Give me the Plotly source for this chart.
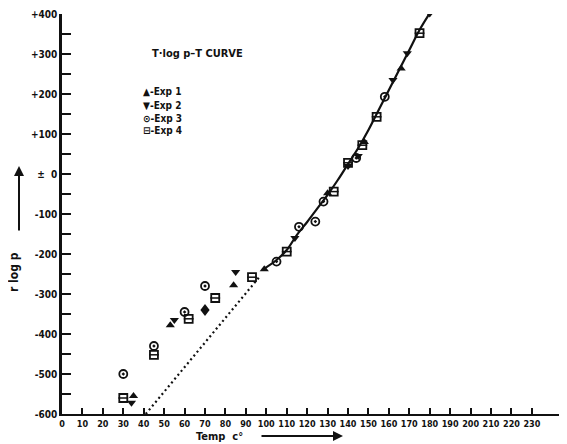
import plotly.graph_objects as go

# ---- data (Temp °C, T·log p) ----
exp1_t = [35, 53, 70, 84, 99, 130, 148, 166]
exp1_v = [-555, -378, -335, -278, -238, -48, 80, 264]

exp2_t = [34, 55, 70, 85, 114, 140, 145, 162, 169, 180]
exp2_v = [-572, -365, -345, -245, -160, 20, 45, 235, 302, 401]

exp3_t = [30, 45, 60, 70, 105, 116, 124, 128, 144, 158]
exp3_v = [-500, -430, -345, -280, -219, -132, -119, -69, 40, 193]

exp4_t = [30, 45, 62, 75, 93, 110, 133, 140, 147, 154, 175]
exp4_v = [-560, -452, -362, -310, -258, -194, -44, 28, 72, 143, 352]

curve_t = [98, 105, 110, 115, 120, 125, 130, 135, 140, 145, 150, 155, 160, 165, 170, 175, 180]
curve_v = [-240, -215, -190, -152, -120, -86, -52, -15, 25, 65, 110, 160, 210, 260, 310, 360, 402]

dotted_t = [41, 97]
dotted_v = [-600, -255]

x_ticks = list(range(0, 240, 10))
y_ticks = [400, 300, 200, 100, 0, -100, -200, -300, -400, -500, -600]
y_labels = ["+400", "+300", "+200", "+100", "±  0", "-100", "-200", "-300", "-400", "-500", "-600"]

FONT = "DejaVu Sans Condensed, Liberation Sans Narrow, DejaVu Sans, sans-serif"
INK = "#111111"

fig = go.Figure()

fig.add_trace(go.Scatter(x=dotted_t, y=dotted_v, mode="lines",
                         line=dict(color=INK, width=2.2, dash="2px,3px"), showlegend=False))
fig.add_trace(go.Scatter(x=curve_t, y=curve_v, mode="lines",
                         line=dict(color=INK, width=2.2, shape="spline"), showlegend=False))

fig.add_trace(go.Scatter(x=exp1_t, y=exp1_v, mode="markers", name="Exp 1",
                         marker=dict(symbol="triangle-up", size=8, color=INK), showlegend=False))
fig.add_trace(go.Scatter(x=exp2_t, y=exp2_v, mode="markers", name="Exp 2",
                         marker=dict(symbol="triangle-down", size=8, color=INK), showlegend=False))
fig.add_trace(go.Scatter(x=exp3_t, y=exp3_v, mode="markers", name="Exp 3",
                         marker=dict(symbol="circle-open-dot", size=8, color=INK,
                                     line=dict(width=1.8, color=INK)), showlegend=False))
fig.add_trace(go.Scatter(x=exp4_t, y=exp4_v, mode="markers", name="Exp 4",
                         marker=dict(symbol="square-open", size=8, color=INK,
                                     line=dict(width=1.8, color=INK)), showlegend=False))
fig.add_trace(go.Scatter(x=exp4_t, y=exp4_v, mode="markers", hoverinfo="skip",
                         marker=dict(symbol="line-ew", size=7, color=INK,
                                     line=dict(width=1.5, color=INK)), showlegend=False))

# the page has an 8px body margin, so the figure is drawn 8px smaller
OFF = 8
W, H = 567 - OFF, 444 - OFF
L, T, R = 62 - OFF, 14 - OFF, 0
B = H - (414 - OFF)
pw, ph = W - L - R, H - T - B


def px(xp):
    return (xp - OFF - L) / pw


def py(yp):
    return (H - B - (yp - OFF)) / ph


annotations = [
    dict(text="T·log p–T CURVE", x=px(197), y=py(53), xref="paper", yref="paper",
         showarrow=False, font=dict(family=FONT, size=11, color=INK, weight="bold"),
         xanchor="center", yanchor="middle"),
    dict(text="r log p", x=px(14), y=py(272), xref="paper", yref="paper", textangle=-90,
         showarrow=False, font=dict(family=FONT, size=12, color=INK, weight="bold"),
         xanchor="center", yanchor="middle"),
    dict(text="Temp  c°", x=px(219), y=py(436), xref="paper", yref="paper",
         showarrow=False, font=dict(family=FONT, size=11, color=INK, weight="bold"),
         xanchor="center", yanchor="middle"),
    dict(text="", x=px(19), y=py(166), xref="paper", yref="paper", showarrow=True,
         ax=0, ay=66, arrowhead=2, arrowsize=1, arrowwidth=2, arrowcolor=INK),
    dict(text="", x=px(343), y=py(436), xref="paper", yref="paper", showarrow=True,
         ax=-83, ay=0, arrowhead=2, arrowsize=1, arrowwidth=2, arrowcolor=INK),
]
legend_items = ["▲-Exp 1", "▼-Exp 2", "⊙-Exp 3", "⊟-Exp 4"]
legend_y = [92, 105, 118, 130]
for txt, yy in zip(legend_items, legend_y):
    annotations.append(dict(text=txt, x=px(141), y=py(yy), xref="paper", yref="paper",
                            showarrow=False, font=dict(family=FONT, size=10, color=INK, weight="bold"),
                            xanchor="left", yanchor="middle"))

fig.update_layout(
    width=W, height=H,
    margin=dict(l=L, r=R, t=T, b=B, autoexpand=False),
    paper_bgcolor="white", plot_bgcolor="white",
    font=dict(family=FONT, color=INK),
    annotations=annotations,
    xaxis=dict(range=[0, pw / 2.043], showgrid=False, zeroline=False, automargin=False,
               showline=True, linecolor=INK, linewidth=2,
               tickvals=x_ticks, ticktext=[str(v) for v in x_ticks],
               ticks="inside", ticklen=6, tickwidth=1.5, tickcolor=INK,
               tickfont=dict(family=FONT, size=9, color=INK, weight="bold")),
    yaxis=dict(range=[-600, 400], showgrid=False, zeroline=False, automargin=False,
               showline=True, linecolor=INK, linewidth=2.5,
               tickvals=y_ticks, ticktext=y_labels,
               ticks="inside", ticklen=9, tickwidth=1.5, tickcolor=INK,
               minor=dict(dtick=50, tick0=0, ticks="inside", ticklen=9, tickwidth=1.5, tickcolor=INK),
               tickfont=dict(family=FONT, size=10, color=INK, weight="bold")),
)

fig.write_html("out.html")
